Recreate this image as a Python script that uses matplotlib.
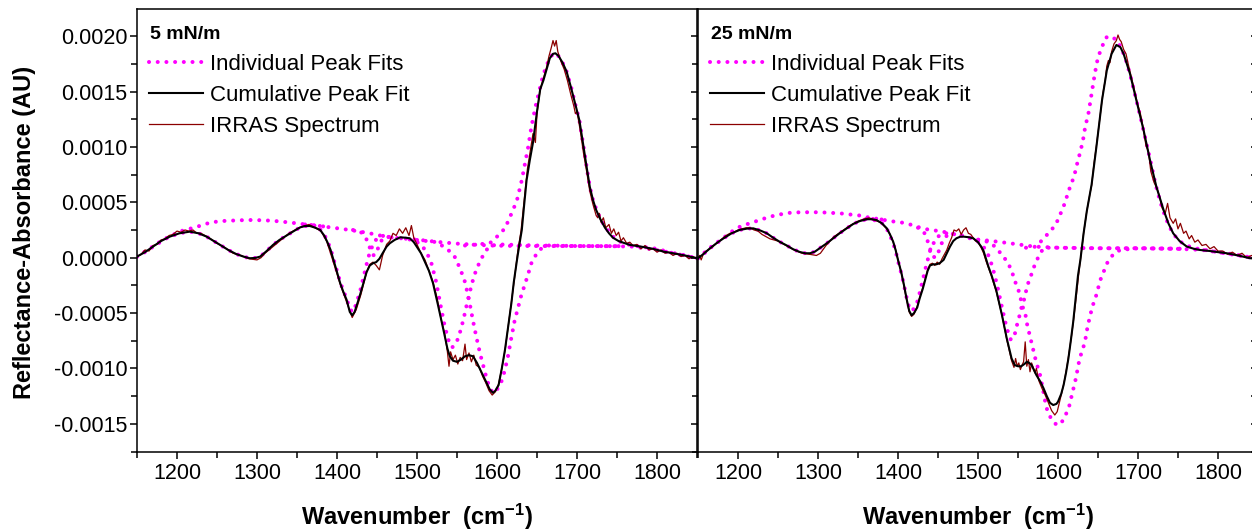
import matplotlib
matplotlib.use("Agg")
import matplotlib.pyplot as plt
from matplotlib.lines import Line2D
from matplotlib.ticker import MultipleLocator, FormatStrFormatter

plt.rcParams['font.family'] = ['Liberation Sans', 'DejaVu Sans']
plt.rcParams['axes.unicode_minus'] = False
plt.rcParams['mathtext.default'] = 'regular'

# ---------------- 5 mN/m ----------------
wn_cum_5 = [1150, 1160, 1170, 1180, 1191, 1203, 1216, 1227, 1237, 1246, 1254, 1264, 1274, 1283,
            1291, 1298, 1304, 1312, 1320, 1328, 1337, 1346, 1354, 1360, 1366, 1373, 1379, 1384,
            1388, 1392, 1396, 1400, 1404, 1408, 1412, 1416, 1419, 1422, 1426, 1429, 1433, 1437,
            1441, 1445, 1449, 1453, 1457, 1462, 1466, 1472, 1479, 1486, 1491, 1496, 1501, 1505,
            1510, 1515, 1520, 1526, 1533, 1538, 1541, 1545, 1550, 1555, 1560, 1565, 1570, 1575,
            1579, 1583, 1587, 1591, 1595, 1598, 1602, 1606, 1610, 1614, 1618, 1621, 1625, 1628,
            1631, 1634, 1637, 1641, 1645, 1650, 1654, 1658, 1662, 1666, 1670, 1673, 1677, 1682,
            1687, 1692, 1697, 1703, 1708, 1712, 1716, 1720, 1724, 1729, 1735, 1740, 1745, 1752,
            1760, 1766, 1780, 1795, 1808, 1820, 1835, 1850]
cum_5 = [0.00001, 0.00005, 0.0001, 0.00015, 0.00019, 0.00022, 0.000235, 0.00022, 0.00019, 0.00015,
         0.000115, 0.00007, 0.000033, 0.00001, -0.000005, -0.000002, 0.00001, 0.00006, 0.000115,
         0.00016, 0.0002, 0.00024, 0.000274, 0.000285, 0.000286, 0.00027, 0.00025, 0.0002, 0.00014,
         0.00007, -0.00003, -0.00013, -0.00023, -0.00031, -0.00038, -0.00049, -0.00052, -0.00049,
         -0.0004, -0.00033, -0.00023, -0.00013, -0.00007, -0.00005, -0.00004, -0.00001, 0.00004,
         0.0001, 0.00013, 0.00016, 0.000184, 0.00018, 0.000175, 0.00014, 0.000085, 0.00004,
         -0.00004, -0.00012, -0.00023, -0.00042, -0.00065, -0.00082, -0.00089, -0.00093, -0.00094,
         -0.00092, -0.00089, -0.00088, -0.00089, -0.00095, -0.00101, -0.00107, -0.00113, -0.00119,
         -0.00122, -0.0012, -0.00115, -0.001, -0.00083, -0.00062, -0.00041, -0.00022, -0.00002,
         0.00012, 0.00025, 0.00048, 0.0007, 0.00088, 0.00104, 0.00132, 0.00152, 0.0016, 0.0017,
         0.0018, 0.00184, 0.001845, 0.00182, 0.00176, 0.00168, 0.00155, 0.00141, 0.00124, 0.00101,
         0.00082, 0.00064, 0.00052, 0.00043, 0.00035, 0.00027, 0.00022, 0.00018, 0.00015, 0.00013,
         0.000115, 0.0001, 0.00008, 0.000055, 0.00004, 0.00002, -0.000005]

wn_irr_5 = [1150, 1155, 1160, 1165, 1170, 1175, 1180, 1185, 1190, 1195, 1200, 1205, 1210, 1215,
            1220, 1225, 1230, 1240, 1250, 1260, 1270, 1280, 1290, 1300, 1305, 1310, 1320, 1330,
            1340, 1350, 1360, 1365, 1370, 1380, 1387, 1395, 1404, 1412, 1419, 1424, 1430, 1437,
            1441, 1445, 1449, 1453, 1457, 1462, 1466, 1470, 1474, 1478, 1482, 1486, 1490, 1493,
            1496, 1500, 1505, 1510, 1515, 1520, 1525, 1530, 1535, 1538, 1540, 1542, 1545, 1548,
            1551, 1554, 1557, 1560, 1562, 1565, 1568, 1571, 1574, 1578, 1582, 1586, 1590, 1594,
            1598, 1602, 1606, 1610, 1614, 1618, 1622, 1626, 1630, 1634, 1638, 1642, 1645, 1648,
            1650, 1654, 1658, 1662, 1665, 1668, 1670, 1672, 1674, 1676, 1680, 1684, 1688, 1692,
            1696, 1698, 1700, 1704, 1708, 1712, 1716, 1720, 1722, 1724, 1726, 1728, 1730, 1733,
            1736, 1740, 1743, 1746, 1749, 1752, 1755, 1758, 1762, 1766, 1770, 1775, 1780, 1785,
            1790, 1795, 1800, 1805, 1810, 1815, 1820, 1825, 1830, 1835, 1840, 1845, 1850]
irr_5 = [0.00001, 0.00003, 0.00007, 0.00006, 0.00011, 0.00012, 0.00016, 0.00017, 0.0002, 0.00021,
         0.00024, 0.00023, 0.00025, 0.00024, 0.00025, 0.00022, 0.00022, 0.00018, 0.00013, 0.00009,
         0.00004, 0.00002, -0.00001, -0.00002, 0.0, 0.00004, 0.0001, 0.00016, 0.00022, 0.00026,
         0.00029, 0.0003, 0.00028, 0.00024, 0.00015, -0.00003, -0.00024, -0.0004, -0.00054,
         -0.00047, -0.00033, -0.00013, -0.00006, -0.00004, -0.00007, -0.00011, 0.00002, 0.00012,
         0.00015, 0.00022, 0.0002, 0.00026, 0.00022, 0.00027, 0.0002, 0.00029, 0.00018, 0.00012,
         0.00004, -0.00002, -0.00012, -0.00022, -0.00036, -0.00055, -0.0007, -0.00085, -0.00098,
         -0.00085, -0.00092, -0.00088, -0.00096, -0.0009, -0.00093, -0.00078, -0.00092, -0.00086,
         -0.00094, -0.00088, -0.00097, -0.00099, -0.00107, -0.00113, -0.0012, -0.00124, -0.00121,
         -0.00114, -0.001, -0.00084, -0.00062, -0.0004, -0.00018, 0.00006, 0.00024, 0.00052,
         0.0008, 0.00098, 0.00112, 0.00104, 0.0013, 0.00152, 0.00162, 0.00172, 0.00182, 0.0019,
         0.00196, 0.00191, 0.00196, 0.00186, 0.00177, 0.0017, 0.0016, 0.00148, 0.00137, 0.0013,
         0.00132, 0.00115, 0.00095, 0.00078, 0.0006, 0.00048, 0.00043, 0.00038, 0.00036, 0.0004,
         0.00032, 0.00036, 0.00027, 0.0003, 0.00022, 0.00026, 0.0002, 0.00023, 0.00015, 0.00018,
         0.00013, 0.00014, 0.00011, 0.00012, 0.00008, 0.00011, 0.00007, 0.00008, 0.00005, 0.00007,
         0.00004, 0.00005, 0.00002, 0.00004, 0.00001, 0.00002, -0.00001, 0.00001, -0.00001]

# individual peak fits, 5 mN/m
wn_pk_broad_5 = [1150, 1170, 1190, 1205, 1218, 1230, 1241, 1254, 1266, 1280, 1293, 1305, 1318, 1330,
                 1343, 1355, 1368, 1380, 1391, 1404, 1416, 1429, 1441, 1454, 1466, 1480, 1495, 1510,
                 1525, 1537, 1550, 1565, 1579, 1590, 1620, 1660, 1700, 1740, 1770, 1790, 1810, 1830,
                 1850]
pk_broad_5 = [0.00001, 0.0001, 0.00019, 0.00024, 0.000265, 0.00029, 0.000316, 0.00033, 0.000334,
              0.000338, 0.00034, 0.000338, 0.000334, 0.000326, 0.000316, 0.000305, 0.000295,
              0.000285, 0.000274, 0.000262, 0.00025, 0.000235, 0.00022, 0.0002, 0.000184, 0.000175,
              0.000166, 0.000155, 0.000143, 0.000135, 0.000127, 0.00012, 0.000115, 0.00011,
              0.000106, 0.000105, 0.000105, 0.000104, 0.0001, 0.00008, 0.000055, 0.00003, -0.000005]
wn_pk_1290_5 = [1150, 1160, 1170, 1180, 1191, 1203, 1216, 1227, 1237, 1246, 1254, 1264, 1274, 1283,
                1291, 1298, 1304, 1312, 1320, 1328, 1337, 1346, 1354, 1360, 1366, 1375, 1390]
pk_1290_5 = [0.00001, 0.00005, 0.0001, 0.00015, 0.00019, 0.00022, 0.000235, 0.00022, 0.00019,
             0.00015, 0.000115, 0.00007, 0.000033, 0.00001, -0.000005, -0.000002, 0.00001, 0.00006,
             0.000115, 0.00016, 0.0002, 0.00024, 0.000274, 0.000285, 0.000288, 0.00029, 0.000275]
wn_pk_1415_5 = [1360, 1375, 1384, 1388, 1392, 1396, 1400, 1404, 1408, 1412, 1416, 1419, 1422, 1426,
                1429, 1433, 1437, 1441, 1447, 1455, 1470]
pk_1415_5 = [0.0003, 0.00029, 0.00021, 0.00015, 0.00008, -0.00002, -0.00012, -0.00022, -0.0003,
             -0.00037, -0.00046, -0.00049, -0.00046, -0.00037, -0.0003, -0.00018, -0.00006, 0.00005,
             0.00015, 0.0002, 0.00018]
wn_pk_1445_5 = [1420, 1430, 1436, 1440, 1443, 1446, 1449, 1452, 1456, 1462, 1475]
pk_1445_5 = [0.00025, 0.00023, 0.00018, 0.00011, 0.00005, 0.00002, 0.00004, 0.0001, 0.00016,
             0.00019, 0.00018]
wn_pk_1545_5 = [1480, 1495, 1505, 1512, 1518, 1524, 1530, 1535, 1540, 1544, 1548, 1552, 1555, 1558,
                1562, 1566, 1570, 1574, 1579, 1584, 1590, 1600, 1650, 1700, 1750]
pk_1545_5 = [0.000175, 0.00016, 0.00012, 0.00005, -0.00005, -0.00022, -0.00045, -0.00063, -0.00076,
             -0.00081, -0.00078, -0.00072, -0.00064, -0.00056, -0.00043, -0.00031, -0.0002, -0.00011,
             -0.00003, 0.00004, 0.0001, 0.00012, 0.00011, 0.000105, 0.000104]
wn_pk_1595_5 = [1500, 1525, 1539, 1547, 1554, 1560, 1565, 1570, 1574, 1579, 1583, 1587, 1591, 1595,
                1598, 1601, 1606, 1610, 1614, 1618, 1622, 1626, 1630, 1634, 1638, 1643, 1649, 1655,
                1665, 1700, 1760]
pk_1595_5 = [0.00016, 0.00014, 0.00007, 0.00001, -0.0001, -0.00022, -0.00038, -0.00057, -0.00071,
             -0.00087, -0.00098, -0.00109, -0.00118, -0.00122, -0.00121, -0.00118, -0.00111, -0.00101,
             -0.00088, -0.00072, -0.00057, -0.00046, -0.00035, -0.00026, -0.00017, -0.00005, 0.00003,
             0.00008, 0.00011, 0.000105, 0.000104]
wn_pk_1670_5 = [1560, 1591, 1600, 1610, 1620, 1625, 1631, 1635, 1639, 1643, 1648, 1652, 1656, 1661,
                1666, 1670, 1675, 1682, 1687, 1693, 1698, 1703, 1708, 1712, 1716, 1720, 1725, 1730,
                1736, 1745, 1755, 1766, 1780, 1800, 1820, 1850]
pk_1670_5 = [0.00011, 0.00013, 0.00019, 0.000265, 0.00043, 0.00052, 0.0007, 0.00085, 0.001, 0.00118,
             0.00136, 0.00148, 0.0016, 0.00172, 0.0018, 0.00184, 0.00184, 0.00176, 0.00168, 0.00153,
             0.00138, 0.00124, 0.00101, 0.00082, 0.00064, 0.00052, 0.00042, 0.00034, 0.00027,
             0.00019, 0.00014, 0.000115, 0.0001, 0.00008, 0.00004, -0.000005]

# ---------------- 25 mN/m ----------------
wn_cum_25 = [1150, 1158, 1165, 1173, 1182, 1192, 1202, 1211, 1219, 1228, 1236, 1244, 1252, 1261,
             1269, 1277, 1284, 1290, 1296, 1303, 1311, 1319, 1327, 1336, 1344, 1352, 1361, 1367,
             1373, 1380, 1386, 1390, 1394, 1397, 1400, 1404, 1407, 1411, 1414, 1417, 1420, 1424,
             1427, 1431, 1434, 1437, 1440, 1444, 1448, 1452, 1457, 1461, 1465, 1469, 1473, 1478,
             1482, 1488, 1494, 1500, 1504, 1507, 1510, 1513, 1517, 1523, 1530, 1536, 1542, 1546,
             1550, 1554, 1558, 1561, 1564, 1567, 1573, 1578, 1582, 1586, 1590, 1594, 1598, 1600,
             1604, 1607, 1610, 1613, 1616, 1619, 1621, 1623, 1625, 1628, 1632, 1636, 1642, 1648,
             1655, 1661, 1667, 1673, 1678, 1682, 1690, 1698, 1707, 1715, 1723, 1732, 1738, 1744,
             1752, 1761, 1770, 1777, 1790, 1800, 1811, 1825, 1840, 1850]
cum_25 = [-0.000005, 0.00004, 0.000085, 0.00013, 0.000175, 0.00022, 0.00025, 0.000262, 0.000265,
          0.000245, 0.00022, 0.00018, 0.000144, 0.00011, 0.000076, 0.000052, 0.00004, 0.00004,
          0.000054, 0.00009, 0.00013, 0.000175, 0.00022, 0.000265, 0.000304, 0.00033, 0.000347,
          0.000347, 0.00034, 0.00031, 0.000265, 0.00021, 0.000144, 0.00007, -0.00002, -0.00013,
          -0.00023, -0.00038, -0.00048, -0.00052, -0.0005, -0.00045, -0.00037, -0.00028, -0.0002,
          -0.00012, -0.00007, -0.00006, -0.00006, -0.00005, -0.00002, 0.00004, 0.0001, 0.00015,
          0.000175, 0.00019, 0.00019, 0.000185, 0.000175, 0.00014, 0.0001, 0.00006, -0.00001,
          -0.00008, -0.00016, -0.0003, -0.00052, -0.00073, -0.00091, -0.00097, -0.00098, -0.00098,
          -0.00096, -0.00094, -0.00095, -0.00097, -0.00106, -0.00112, -0.00118, -0.00125, -0.00131,
          -0.00133, -0.00132, -0.0013, -0.00123, -0.00115, -0.00104, -0.00091, -0.00075, -0.00058,
          -0.00044, -0.0003, -0.00016, -0.00002, 0.00022, 0.00042, 0.00066, 0.001, 0.00142, 0.00169,
          0.00184, 0.00192, 0.0019, 0.00184, 0.00166, 0.00142, 0.00115, 0.00088, 0.00064, 0.00043,
          0.00031, 0.00022, 0.00015, 0.0001, 0.00008, 0.00007, 0.00006, 0.00005, 0.00004, 0.00002,
          -0.000005, -0.00001]

wn_irr_25 = [1150, 1152, 1154, 1157, 1160, 1165, 1170, 1175, 1180, 1185, 1190, 1195, 1200, 1205,
             1210, 1215, 1220, 1225, 1230, 1240, 1250, 1260, 1270, 1280, 1290, 1298, 1303, 1310,
             1320, 1330, 1340, 1350, 1358, 1364, 1370, 1378, 1386, 1390, 1394, 1397, 1400, 1404,
             1407, 1411, 1414, 1417, 1420, 1424, 1427, 1431, 1434, 1437, 1440, 1443, 1446, 1449,
             1452, 1455, 1458, 1461, 1464, 1467, 1470, 1473, 1476, 1479, 1482, 1485, 1488, 1491,
             1494, 1497, 1500, 1504, 1507, 1510, 1513, 1517, 1523, 1530, 1536, 1542, 1545, 1547,
             1549, 1551, 1553, 1555, 1557, 1559, 1561, 1563, 1565, 1567, 1569, 1571, 1573, 1576,
             1580, 1584, 1588, 1592, 1596, 1599, 1602, 1605, 1608, 1611, 1614, 1617, 1620, 1623,
             1626, 1629, 1632, 1636, 1640, 1642, 1645, 1648, 1652, 1656, 1659, 1661, 1663, 1665,
             1667, 1670, 1673, 1675, 1677, 1679, 1682, 1685, 1688, 1691, 1695, 1699, 1703, 1706,
             1710, 1713, 1716, 1720, 1724, 1727, 1730, 1734, 1737, 1740, 1744, 1747, 1750, 1753,
             1757, 1760, 1764, 1767, 1771, 1775, 1780, 1785, 1790, 1795, 1800, 1806, 1812, 1818,
             1824, 1830, 1836, 1842, 1850]
irr_25 = [-0.00001, 0.00002, -0.00002, 0.00004, 0.00006, 0.00008, 0.00011, 0.00014, 0.00017, 0.0002,
          0.00022, 0.00023, 0.00025, 0.00026, 0.00027, 0.00027, 0.00025, 0.00024, 0.00021, 0.00017,
          0.00015, 0.00011, 0.00007, 0.00004, 0.00003, 0.00002, 0.00004, 0.00011, 0.00019, 0.00024,
          0.00029, 0.00033, 0.00035, 0.00036, 0.00034, 0.00032, 0.00026, 0.00021, 0.00014, 0.00007,
          -0.00002, -0.00013, -0.00024, -0.00039, -0.00049, -0.00053, -0.00051, -0.00044, -0.00036,
          -0.00027, -0.00019, -0.00011, -0.00006, -0.00005, -0.00007, -0.00004, -0.00006, -0.00001,
          0.00003, 0.00007, 0.00013, 0.00018, 0.00025, 0.00024, 0.00026, 0.00021, 0.00025, 0.00027,
          0.00022, 0.00021, 0.00018, 0.00015, 0.00014, 0.00009, 0.00004, -0.00003, -0.00009,
          -0.00017, -0.00031, -0.00052, -0.00074, -0.00093, -0.00099, -0.00091, -0.00098, -0.00095,
          -0.00101, -0.00097, -0.00094, -0.00076, -0.00098, -0.00092, -0.00103, -0.00095, -0.00099,
          -0.00104, -0.001, -0.00111, -0.00118, -0.00124, -0.00131, -0.00138, -0.00142, -0.00139,
          -0.0013, -0.00121, -0.00111, -0.00099, -0.00085, -0.0007, -0.00053, -0.00034, -0.00014,
          0.00004, 0.00022, 0.00042, 0.00058, 0.00065, 0.00085, 0.00101, 0.00124, 0.00148, 0.0016,
          0.00173, 0.00178, 0.00176, 0.00186, 0.00193, 0.00196, 0.00201, 0.00197, 0.00195, 0.00188,
          0.00184, 0.00174, 0.00165, 0.00153, 0.0014, 0.0013, 0.00119, 0.00101, 0.00096, 0.00078,
          0.00068, 0.00062, 0.00055, 0.00045, 0.0004, 0.00049, 0.00036, 0.00031, 0.00035, 0.00026,
          0.00031, 0.00022, 0.00024, 0.00017, 0.0002, 0.00014, 0.00016, 0.00011, 0.00012, 0.00008,
          0.0001, 0.00006, 0.00006, 0.00003, 0.00005, 0.00002, 0.00004, 0.0, 0.00002, -0.00001]

wn_pk_broad_25 = [1150, 1165, 1182, 1195, 1205, 1215, 1227, 1240, 1252, 1265, 1278, 1290, 1303, 1315,
                  1328, 1340, 1353, 1365, 1378, 1390, 1403, 1415, 1428, 1440, 1453, 1465, 1478, 1490,
                  1503, 1515, 1540, 1570, 1600, 1650, 1700, 1750, 1780, 1800, 1820, 1850]
pk_broad_25 = [-0.000005, 0.00009, 0.00018, 0.00025, 0.00029, 0.00031, 0.00034, 0.00037, 0.00039,
               0.000405, 0.00041, 0.00041, 0.00041, 0.000405, 0.0004, 0.00039, 0.00038, 0.00036,
               0.000347, 0.00033, 0.00032, 0.0003, 0.00027, 0.00025, 0.00024, 0.00022, 0.0002,
               0.000175, 0.00016, 0.000153, 0.00013, 0.0001, 0.00009, 0.000085, 0.000085, 0.00008,
               0.00007, 0.00005, 0.00003, -0.00001]
wn_pk_1290_25 = [1150, 1158, 1165, 1173, 1182, 1192, 1202, 1211, 1219, 1228, 1236, 1244, 1252, 1261,
                 1269, 1277, 1284, 1290, 1296, 1303, 1311, 1319, 1327, 1336, 1344, 1352, 1361, 1367,
                 1378, 1390]
pk_1290_25 = [-0.000005, 0.00004, 0.000085, 0.00013, 0.000175, 0.00022, 0.00025, 0.000262, 0.000265,
              0.000245, 0.00022, 0.00018, 0.000144, 0.00011, 0.000076, 0.000052, 0.00004, 0.00004,
              0.000054, 0.00009, 0.00013, 0.000175, 0.00022, 0.000265, 0.000304, 0.00033, 0.000347,
              0.00035, 0.000347, 0.00033]
wn_pk_1415_25 = [1360, 1378, 1386, 1390, 1394, 1397, 1400, 1404, 1407, 1411, 1414, 1417, 1420, 1424,
                 1427, 1431, 1435, 1440, 1447, 1455, 1470]
pk_1415_25 = [0.00035, 0.00033, 0.00026, 0.0002, 0.00013, 0.00006, -0.00003, -0.00014, -0.00023,
              -0.00037, -0.00045, -0.00048, -0.00046, -0.0004, -0.00032, -0.0002, -0.00008, 0.00006,
              0.00017, 0.00022, 0.00022]
wn_pk_1445_25 = [1425, 1432, 1437, 1441, 1444, 1447, 1450, 1454, 1458, 1465, 1478]
pk_1445_25 = [0.00027, 0.00024, 0.00015, 0.00006, 0.00001, 0.0, 0.00004, 0.00012, 0.00018, 0.00022,
              0.0002]
wn_pk_1545_25 = [1480, 1495, 1505, 1512, 1518, 1524, 1530, 1536, 1541, 1545, 1549, 1552, 1555, 1559,
                 1561, 1565, 1569, 1575, 1582, 1590, 1600, 1650, 1700, 1760]
pk_1545_25 = [0.0002, 0.00017, 0.00012, 0.00004, -0.00008, -0.00025, -0.00045, -0.00064, -0.00074,
              -0.00072, -0.0006, -0.00052, -0.00043, -0.00035, -0.00026, -0.00019, -0.0001, 0.0,
              0.00009, 0.00009, 0.00009, 0.000085, 0.000085, 0.00008]
wn_pk_1600_25 = [1500, 1515, 1521, 1532, 1539, 1544, 1548, 1552, 1555, 1559, 1561, 1564, 1567, 1570,
                 1573, 1577, 1581, 1584, 1587, 1592, 1597, 1602, 1606, 1609, 1614, 1617, 1620, 1623,
                 1625, 1628, 1632, 1635, 1637, 1640, 1643, 1647, 1650, 1653, 1658, 1662, 1670, 1678,
                 1700, 1760]
pk_1600_25 = [0.00016, 0.00014, 0.0001, 0.00001, -0.00007, -0.00016, -0.00025, -0.00032, -0.00043,
              -0.0005, -0.00059, -0.00068, -0.00077, -0.00086, -0.00095, -0.00104, -0.00118, -0.0013,
              -0.00139, -0.00146, -0.0015, -0.00151, -0.00147, -0.00143, -0.00134, -0.00125,
              -0.00116, -0.00107, -0.00098, -0.00089, -0.0008, -0.00071, -0.00062, -0.00053,
              -0.00044, -0.00036, -0.00028, -0.0002, -0.00011, -0.00004, 0.00004, 0.00007, 0.000085,
              0.00008]
wn_pk_1665_25 = [1560, 1573, 1582, 1592, 1600, 1605, 1609, 1613, 1617, 1621, 1624, 1628, 1631, 1634,
                 1638, 1642, 1646, 1650, 1655, 1659, 1663, 1668, 1674, 1680, 1686, 1692, 1698, 1704,
                 1710, 1716, 1722, 1728, 1735, 1742, 1750, 1760, 1775, 1800, 1825, 1850]
pk_1665_25 = [0.00009, 0.0001, 0.000175, 0.00025, 0.00034, 0.00043, 0.0005, 0.0006, 0.00067, 0.00076,
              0.00085, 0.00096, 0.00105, 0.00118, 0.0013, 0.00148, 0.00166, 0.00181, 0.0019, 0.00198,
              0.002, 0.00199, 0.00196, 0.00188, 0.00176, 0.0016, 0.00142, 0.00124, 0.00105, 0.00086,
              0.00066, 0.0005, 0.00035, 0.00024, 0.00016, 0.00011, 0.00008, 0.00005, 0.00002,
              -0.00001]

panels = [
    ("5 mN/m", wn_cum_5, cum_5, wn_irr_5, irr_5,
     [(wn_pk_broad_5, pk_broad_5), (wn_pk_1290_5, pk_1290_5), (wn_pk_1415_5, pk_1415_5),
      (wn_pk_1445_5, pk_1445_5), (wn_pk_1545_5, pk_1545_5), (wn_pk_1595_5, pk_1595_5),
      (wn_pk_1670_5, pk_1670_5)]),
    ("25 mN/m", wn_cum_25, cum_25, wn_irr_25, irr_25,
     [(wn_pk_broad_25, pk_broad_25), (wn_pk_1290_25, pk_1290_25), (wn_pk_1415_25, pk_1415_25),
      (wn_pk_1445_25, pk_1445_25), (wn_pk_1545_25, pk_1545_25), (wn_pk_1600_25, pk_1600_25),
      (wn_pk_1665_25, pk_1665_25)]),
]

MAG = '#FF00FF'
RED = '#8B0000'
dot_style = dict(color=MAG, lw=2.9, linestyle=(0, (0.01, 2.15)), dash_capstyle='round')

fig = plt.figure(figsize=(12.52, 5.31), dpi=100)
lefts = [137 / 1252, 698 / 1252]
bottom = (531 - 452) / 531
height = (452 - 9.3) / 531
width = 560 / 1252

for i, (title, wc, yc, wi, yi, peaks) in enumerate(panels):
    ax = fig.add_axes([lefts[i], bottom, width, height])
    for wp, yp in peaks:
        ax.plot(wp, yp, zorder=1, **dot_style)
    ax.plot(wi, yi, color=RED, lw=0.9, zorder=2)
    ax.plot(wc, yc, color='black', lw=1.5, zorder=3)

    ax.set_xlim(1150, 1850)
    ax.set_ylim(-0.001754, 0.002242)
    ax.xaxis.set_major_locator(MultipleLocator(100))
    ax.xaxis.set_minor_locator(MultipleLocator(50))
    ax.yaxis.set_major_locator(MultipleLocator(0.0005))
    ax.yaxis.set_minor_locator(MultipleLocator(0.00025))
    ax.yaxis.set_major_formatter(FormatStrFormatter('%.4f'))
    for s in ax.spines.values():
        s.set_linewidth(1.1)
    ax.tick_params(axis='x', which='both', direction='out', top=False, labelsize=15.5, pad=3, width=1.1)
    ax.tick_params(axis='x', which='major', length=5)
    ax.tick_params(axis='x', which='minor', length=4)
    ax.tick_params(axis='y', which='both', direction='out', left=True, right=False,
                   labelsize=15.5, pad=2, width=1.1)
    ax.tick_params(axis='y', which='major', length=5)
    ax.tick_params(axis='y', which='minor', length=4)
    if i == 1:
        ax.tick_params(axis='y', which='both', labelleft=False)
        # inward ticks on the right border of the right panel
        sec = ax.secondary_yaxis('right')
        sec.yaxis.set_major_locator(MultipleLocator(0.0005))
        sec.yaxis.set_minor_locator(MultipleLocator(0.00025))
        sec.tick_params(axis='y', which='both', direction='in', length=5, width=1.1,
                        labelright=False)
        sec.spines['right'].set_linewidth(1.1)

    ax.set_xlabel('Wavenumber  (cm$^{-1}$)', fontsize=17, fontweight='bold')
    ax.xaxis.set_label_coords(0.5, -0.112)

    ax.text(0.023, 0.944, title, transform=ax.transAxes, fontsize=14, fontweight='bold',
            ha='left', va='center')
    handles = [Line2D([], [], **dot_style),
               Line2D([], [], color='black', lw=1.5),
               Line2D([], [], color=RED, lw=0.9)]
    ax.legend(handles, ['Individual Peak Fits', 'Cumulative Peak Fit', 'IRRAS Spectrum'],
              loc='upper left', bbox_to_anchor=(0.022, 0.9), frameon=False, fontsize=16,
              handlelength=2.4, handletextpad=0.35, labelspacing=0.45, borderpad=0,
              borderaxespad=0)

fig.text(25 / 1252, 1 - 232 / 531, 'Reflectance-Absorbance (AU)', rotation=90, fontsize=17,
         fontweight='bold', ha='center', va='center')

fig.savefig('out.png', dpi=100)
